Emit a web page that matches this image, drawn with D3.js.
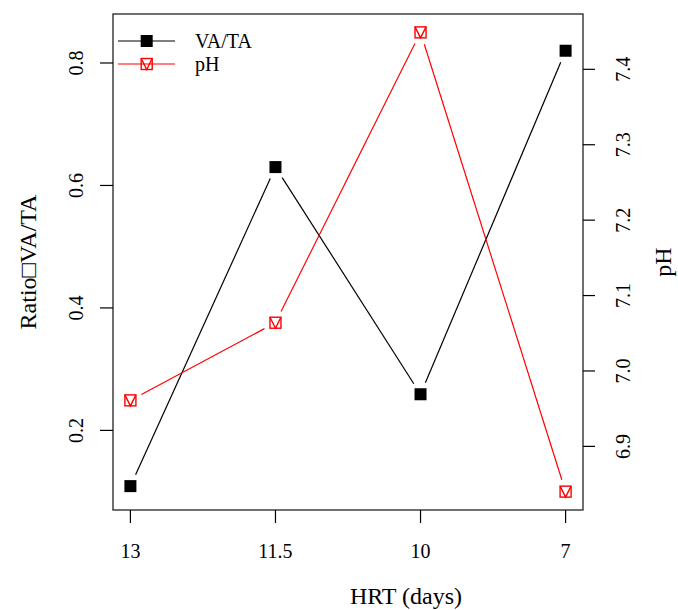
<!DOCTYPE html>
<html>
<head>
<meta charset="utf-8">
<script src="https://cdn.jsdelivr.net/npm/d3@7"></script>
<style>
  body { margin: 0; background: #fff; }
  svg { display: block; font-family: "Liberation Serif", "Times New Roman", serif; }
  .tick-label { font-size: 20px; fill: #000; }
  .axis-title { font-size: 24px; fill: #000; }
</style>
</head>
<body>
<svg id="chart" width="678" height="610"></svg>
<script>
// Data
const hrtLabels = ["13", "11.5", "10", "7"];
const vaTa = [0.109, 0.630, 0.259, 0.820];
const pH = [6.961, 7.064, 7.449, 6.84];
const leftTicks = [0.2, 0.4, 0.6, 0.8];
const rightTicks = [6.9, 7.0, 7.1, 7.2, 7.3, 7.4];
const leftLim = [0.1, 0.85];

const box = { left: 113, right: 583, top: 14, bottom: 510 };
const svg = d3.select("#chart");

// R-style 4% axis expansion
const expand = ([a, b]) => { const d = (b - a) * 0.04; return [a - d, b + d]; };

const x = d3.scaleLinear().domain(expand([1, hrtLabels.length])).range([box.left, box.right]);
const yLeft = d3.scaleLinear().domain(expand(leftLim)).range([box.bottom, box.top]);
const yRight = d3.scaleLinear().domain(expand(d3.extent(pH))).range([box.bottom, box.top]);

// Plot box
svg.append("rect")
  .attr("x", box.left).attr("y", box.top)
  .attr("width", box.right - box.left).attr("height", box.bottom - box.top)
  .attr("fill", "none").attr("stroke", "#222").attr("stroke-width", 1.3);

// Bottom axis
hrtLabels.forEach((lab, i) => {
  const px = x(i + 1);
  svg.append("line").attr("x1", px).attr("x2", px).attr("y1", box.bottom).attr("y2", box.bottom + 13)
    .attr("stroke", "#000").attr("stroke-width", 1.2);
  svg.append("text").attr("class", "tick-label").attr("x", px).attr("y", 558)
    .attr("text-anchor", "middle").text(lab);
});

// Left axis
leftTicks.forEach(v => {
  const py = yLeft(v);
  svg.append("line").attr("x1", box.left - 13).attr("x2", box.left).attr("y1", py).attr("y2", py)
    .attr("stroke", "#000").attr("stroke-width", 1.2);
  svg.append("text").attr("class", "tick-label")
    .attr("transform", `translate(83,${py}) rotate(-90)`)
    .attr("text-anchor", "middle").text(v.toFixed(1));
});

// Right axis
rightTicks.forEach(v => {
  const py = yRight(v);
  svg.append("line").attr("x1", box.right).attr("x2", box.right + 12).attr("y1", py).attr("y2", py)
    .attr("stroke", "#000").attr("stroke-width", 1.2);
  svg.append("text").attr("class", "tick-label")
    .attr("transform", `translate(630,${py}) rotate(-90)`)
    .attr("text-anchor", "middle").text(v.toFixed(1));
});

// Axis titles
svg.append("text").attr("class", "axis-title")
  .attr("x", 406).attr("y", 604).attr("text-anchor", "middle").text("HRT (days)");
svg.append("text").attr("class", "axis-title")
  .attr("transform", `translate(36,${(box.top + box.bottom) / 2}) rotate(-90)`)
  .attr("text-anchor", "middle").text("Ratio\u25A1VA/TA");
svg.append("text").attr("class", "axis-title")
  .attr("transform", `translate(671,${(box.top + box.bottom) / 2}) rotate(-90)`)
  .attr("text-anchor", "middle").text("pH");

// type = "b" lines: segments with gaps around each point
const gap = 12.5;
function drawGappedLine(values, yScale, color) {
  const pts = values.map((v, i) => [x(i + 1), yScale(v)]);
  for (let i = 0; i < pts.length - 1; i++) {
    const [x0, y0] = pts[i], [x1, y1] = pts[i + 1];
    const len = Math.hypot(x1 - x0, y1 - y0);
    if (len <= 2 * gap) continue;
    const ux = (x1 - x0) / len, uy = (y1 - y0) / len;
    svg.append("line")
      .attr("x1", x0 + ux * gap).attr("y1", y0 + uy * gap)
      .attr("x2", x1 - ux * gap).attr("y2", y1 - uy * gap)
      .attr("stroke", color).attr("stroke-width", 1.2);
  }
  return pts;
}

function filledSquare(g, cx, cy) {
  g.append("rect").attr("x", cx - 6).attr("y", cy - 6).attr("width", 12).attr("height", 12).attr("fill", "#000");
}
function squareV(g, cx, cy) {
  const s = 5.5;
  g.append("rect").attr("x", cx - s).attr("y", cy - s).attr("width", 2 * s).attr("height", 2 * s)
    .attr("fill", "none").attr("stroke", "#ff0000").attr("stroke-width", 1.4);
  g.append("path").attr("d", `M${cx - s},${cy - s}L${cx},${cy + s}L${cx + s},${cy - s}`)
    .attr("fill", "none").attr("stroke", "#ff0000").attr("stroke-width", 1.4);
}

const vaPts = drawGappedLine(vaTa, yLeft, "#000");
vaPts.forEach(([px, py]) => filledSquare(svg, px, py));
const phPts = drawGappedLine(pH, yRight, "#ff0000");
phPts.forEach(([px, py]) => squareV(svg, px, py));

// Legend
const legendItems = [
  { label: "VA/TA", color: "#000", marker: filledSquare, y: 41 },
  { label: "pH", color: "#ff0000", marker: squareV, y: 64 }
];
legendItems.forEach(d => {
  svg.append("line").attr("x1", 118).attr("x2", 175).attr("y1", d.y).attr("y2", d.y)
    .attr("stroke", d.color).attr("stroke-width", 1.2);
  d.marker(svg, 146.7, d.y);
  svg.append("text").attr("class", "tick-label").attr("x", 195).attr("y", d.y + 7).text(d.label);
});
</script>
</body>
</html>
